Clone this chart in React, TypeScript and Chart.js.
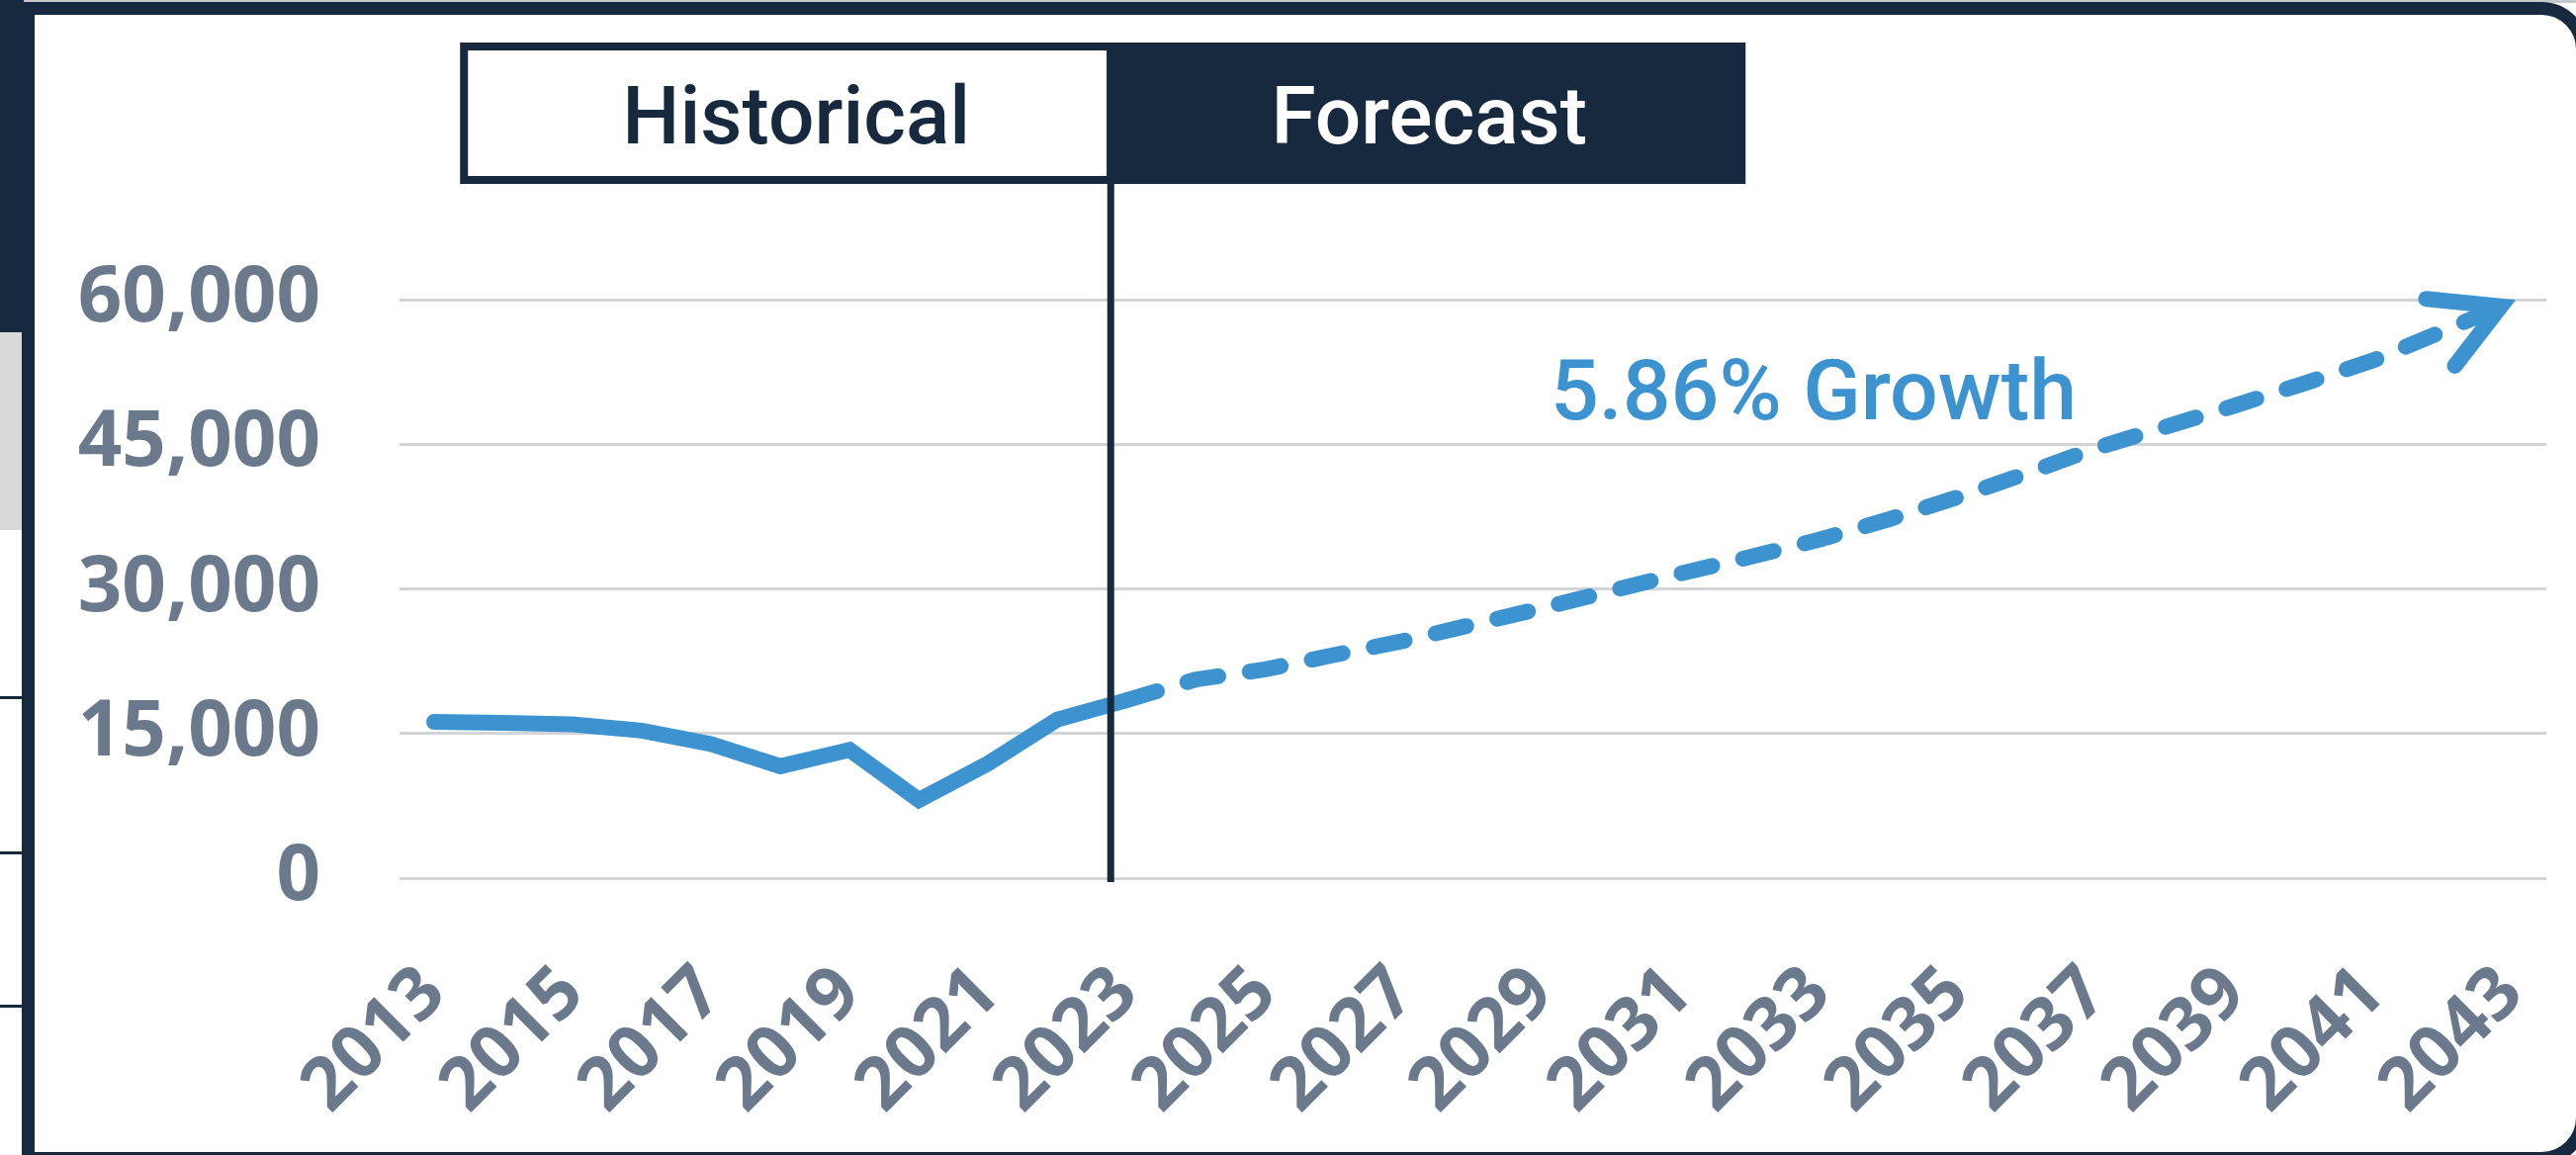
import React, { useEffect, useRef } from 'react';
import { Chart, registerables } from 'chart.js';

Chart.register(...registerables);

// ---------- data ----------
const categories = [
  '2013', '2014', '2015', '2016', '2017', '2018', '2019', '2020', '2021', '2022',
  '2023', '2024', '2025', '2026', '2027', '2028', '2029', '2030', '2031', '2032',
  '2033', '2034', '2035', '2036', '2037', '2038', '2039', '2040', '2041', '2042', '2043',
];
const historicalValues = [16200, 16100, 15950, 15300, 13900, 11600, 13300, 8100, 11900, 16450, 18450];
const forecastValues = [
  18450, 20600, 21650, 23150, 24600, 26300, 28000, 29800, 31600, 33300,
  35100, 37200, 39500, 42000, 44600, 46800, 49000, 51300, 53700, 56700, 59800,
];
const yTickValues = [0, 15000, 30000, 45000, 60000];
const periodLabels = ['Historical', 'Forecast'];
const forecastStartYear = '2023';
const growthLabel = '5.86% Growth';

// ---------- styles ----------
const NAVY = '#17293f';
const BLUE = '#3d93cf';
const TICK = '#6b798c';
const GRID = '#d3d4d8';

const fcStart = categories.indexOf(forecastStartYear);
const historicalSeries = categories.map((_, i) => (i < historicalValues.length ? historicalValues[i] : null));
const forecastSeries = categories.map((_, i) => (i >= fcStart ? forecastValues[i - fcStart] : null));

const decorPlugin = {
  id: 'decor',
  afterDatasetsDraw(chart: any) {
    const { ctx, chartArea, scales } = chart;
    const xs = scales.x;
    const ys = scales.y;
    const step = xs.getPixelForValue(1) - xs.getPixelForValue(0);
    const xDiv = xs.getPixelForValue(fcStart) - 0.23 * step;
    const boxTop = chartArea.top - 260;
    const boxH = 143;

    ctx.save();
    // arrow head on forecast line
    const pts = chart.getDatasetMeta(1).data;
    const p1 = pts[pts.length - 1];
    const p0 = pts[pts.length - 2];
    const ang = Math.atan2(p1.y - p0.y, p1.x - p0.x);
    const back = ang + Math.PI;
    const spread = (29 * Math.PI) / 180;
    const L = 76;
    const vx = p1.x - 12 * Math.cos(ang);
    const vy = p1.y - 12 * Math.sin(ang);
    ctx.strokeStyle = BLUE;
    ctx.lineWidth = 16;
    ctx.lineCap = 'round';
    ctx.lineJoin = 'miter';
    ctx.beginPath();
    ctx.moveTo(vx + L * Math.cos(back - spread), vy + L * Math.sin(back - spread));
    ctx.lineTo(vx, vy);
    ctx.lineTo(vx + L * Math.cos(back + spread), vy + L * Math.sin(back + spread));
    ctx.stroke();

    // divider line
    ctx.strokeStyle = NAVY;
    ctx.lineWidth = 7;
    ctx.lineCap = 'butt';
    ctx.beginPath();
    ctx.moveTo(xDiv, boxTop + boxH - 2);
    ctx.lineTo(xDiv, chartArea.bottom + 4);
    ctx.stroke();

    // header boxes
    ctx.fillStyle = NAVY;
    ctx.fillRect(xDiv - 4, boxTop, 646, boxH);
    ctx.lineWidth = 8;
    ctx.strokeRect(xDiv - 654, boxTop + 4, 654, boxH - 8);

    ctx.font = '500 82px Roboto';
    ctx.textAlign = 'center';
    ctx.textBaseline = 'alphabetic';
    ctx.fillStyle = NAVY;
    ctx.fillText(periodLabels[0], xDiv - 318, boxTop + 102);
    ctx.fillStyle = '#ffffff';
    ctx.fillText(periodLabels[1], xDiv + 322, boxTop + 102);

    // growth annotation
    ctx.font = '500 86px Roboto';
    ctx.textAlign = 'left';
    ctx.fillStyle = BLUE;
    ctx.fillText(growthLabel, xs.getPixelForValue(16) + 0.12 * step, ys.getPixelForValue(47600));
    ctx.restore();
  },
};

function ChartCanvas() {
  const ref = useRef<HTMLCanvasElement | null>(null);
  useEffect(() => {
    if (!ref.current) return;
    const chart = new Chart(ref.current, {
      type: 'line',
      data: {
        labels: categories,
        datasets: [
          {
            data: historicalSeries,
            borderColor: BLUE,
            borderWidth: 16,
            pointRadius: 0,
            borderCapStyle: 'round',
            borderJoinStyle: 'miter',
            tension: 0,
            clip: false,
          } as any,
          {
            data: forecastSeries,
            borderColor: BLUE,
            borderWidth: 16,
            pointRadius: 0,
            borderDash: [32, 32],
            borderCapStyle: 'round',
            borderJoinStyle: 'round',
            tension: 0,
            clip: false,
          } as any,
        ],
      },
      options: {
        animation: false,
        responsive: false,
        devicePixelRatio: 1,
        events: [],
        layout: { padding: { top: 303, right: 30, left: 0, bottom: 0 } },
        plugins: { legend: { display: false }, tooltip: { enabled: false } },
        scales: {
          x: {
            type: 'category',
            offset: true,
            grid: { display: false, drawTicks: false },
            border: { display: false },
            ticks: {
              autoSkip: false,
              maxRotation: 45,
              minRotation: 45,
              padding: 73,
              color: TICK,
              font: { family: 'Open Sans', size: 74, weight: 'bold' },
              callback: (_v: any, i: number) => (i % 2 === 0 ? categories[i] : ''),
            },
            afterFit: (s: any) => {
              s.height = 280;
              s.paddingLeft = 0;
              s.paddingRight = 0;
            },
          },
          y: {
            min: 0,
            max: 60000,
            afterBuildTicks: (s: any) => {
              s.ticks = yTickValues.map((v) => ({ value: v }));
            },
            grid: { color: GRID, lineWidth: 3, drawTicks: false },
            border: { display: false },
            ticks: {
              padding: 80,
              color: TICK,
              font: { family: 'Open Sans', size: 78, weight: 'bold' },
              callback: (v: any) => Number(v).toLocaleString('en-US'),
            },
            afterFit: (s: any) => {
              s.width = 404;
              s.paddingTop = 0;
              s.paddingBottom = 0;
            },
          },
        },
      } as any,
      plugins: [decorPlugin],
    });
    return () => chart.destroy();
  }, []);
  return (
    <canvas
      ref={ref}
      width={2605}
      height={1168}
      style={{ position: 'absolute', left: 0, top: 0, width: 2605, height: 1168 }}
    />
  );
}

export default function App() {
  const abs = (s: React.CSSProperties): React.CSSProperties => ({ position: 'absolute', ...s });
  return (
    <div style={{ position: 'fixed', left: 0, top: 0, width: 2605, height: 1168, overflow: 'hidden', background: '#ffffff' }}>
      <div style={abs({ left: 0, top: 0, width: 2605, height: 3, background: '#c3c8ce' })} />
      <div style={abs({ left: 0, top: 0, width: 24, height: 336, background: NAVY })} />
      <div style={abs({ left: 0, top: 336, width: 22, height: 200, background: '#d9d9d9' })} />
      <div style={abs({ left: 0, top: 704, width: 22, height: 3, background: NAVY })} />
      <div style={abs({ left: 0, top: 861, width: 22, height: 3, background: NAVY })} />
      <div style={abs({ left: 0, top: 1016, width: 22, height: 3, background: NAVY })} />
      <div
        style={abs({
          left: 22,
          top: 2,
          width: 2596,
          height: 1176,
          boxSizing: 'border-box',
          border: `13px solid ${NAVY}`,
          borderRadius: '0 48px 48px 0',
          background: '#ffffff',
        })}
      />
      <ChartCanvas />
    </div>
  );
}
